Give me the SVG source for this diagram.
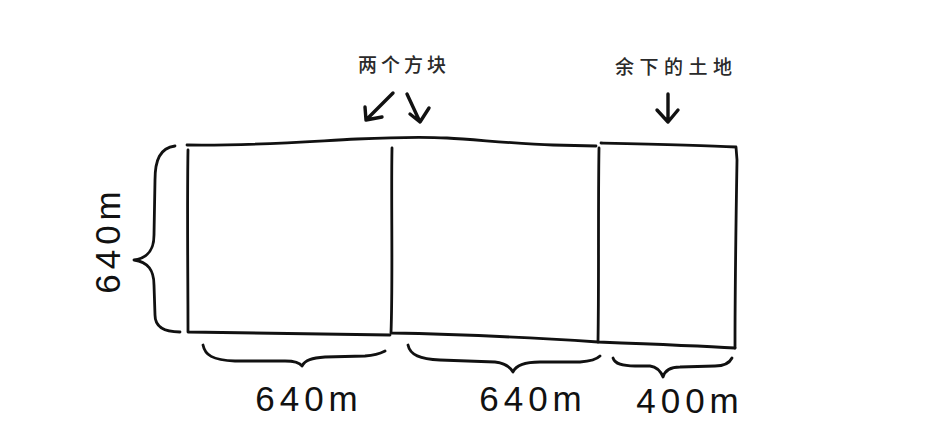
<svg xmlns="http://www.w3.org/2000/svg" width="930" height="444" viewBox="0 0 930 444">
<style>
.ink{fill:none;stroke:#111;stroke-width:2.8;stroke-linecap:round;stroke-linejoin:round}
.arrow{fill:none;stroke:#111;stroke-width:3.4;stroke-linecap:round;stroke-linejoin:round}
.dim{font-family:"Liberation Sans","DejaVu Sans",sans-serif;font-size:35px;fill:#111;letter-spacing:5px}
.cjk{font-family:"Noto Sans CJK SC","Noto Sans CJK TC",serif;font-size:19px;font-weight:500;fill:#2a2a2a}
</style>
<rect width="930" height="444" fill="#fff"/>
<g id="plot">
<path class="ink" d="M187,145 C250,146 300,142 357,139 C400,137 430,137 447,138 C480,140 520,144 553,145 L596,146"/>
<path class="ink" d="M601,143 C650,144 700,145 736,147 L737,160 C736,220 735,290 735,348"/>
<path class="ink" d="M188,150 C187,210 188,280 188,332 L390,335"/>
<path class="ink" d="M392,148 C391,200 393,280 391,333 C450,334 520,337 598,342 C650,344 700,346 735,348"/>
<path class="ink" d="M599,148 C598,210 599,280 598,342"/>
</g>
<g id="connectors">
<path class="arrow" d="M393,93 L366,120 M365,107 L366,120 L382,117"/>
<path class="arrow" d="M407,94 L420,122 M410,114 L420,122 L429,108"/>
<path class="arrow" d="M668,94 L668,122 M657,110 L668,122 L678,110"/>
<path class="ink" d="M175,146 C160,148 155,160 155,180 L154,235 C154,250 148,258 134,260 C148,262 154,270 154,285 L155,315 C155,328 165,332 180,332"/>
<path class="ink" d="M203,345 C205,355 212,360 235,361 L285,361 C295,361 300,363 302,366 C305,360 312,358 325,357 L365,356 C378,355 383,352 385,351"/>
<path class="ink" d="M408,345 C410,355 420,359 440,360 L495,362 C505,363 510,367 513,372 C516,365 524,362 540,362 L580,362 C593,361 598,358 600,356"/>
<path class="ink" d="M613,358 C615,364 622,366 635,366 L650,366 C658,367 661,372 663,377 C665,370 670,367 680,367 L715,366 C726,366 730,362 732,358"/>
</g>
<g id="label-two-squares"><text class="cjk" x="358" y="72" style="letter-spacing:4px">两个方块</text></g>
<g id="label-remaining"><text class="cjk" x="615" y="74" style="letter-spacing:5.5px">余下的土地</text></g>
<g id="label-height"><text class="dim" transform="translate(120,240) rotate(-90)" text-anchor="middle">640m</text></g>
<g id="label-w1"><text class="dim" x="309" y="411" text-anchor="middle">640m</text></g>
<g id="label-w2"><text class="dim" x="533" y="411" text-anchor="middle">640m</text></g>
<g id="label-w3"><text class="dim" x="690" y="413" text-anchor="middle">400m</text></g>
</svg>
